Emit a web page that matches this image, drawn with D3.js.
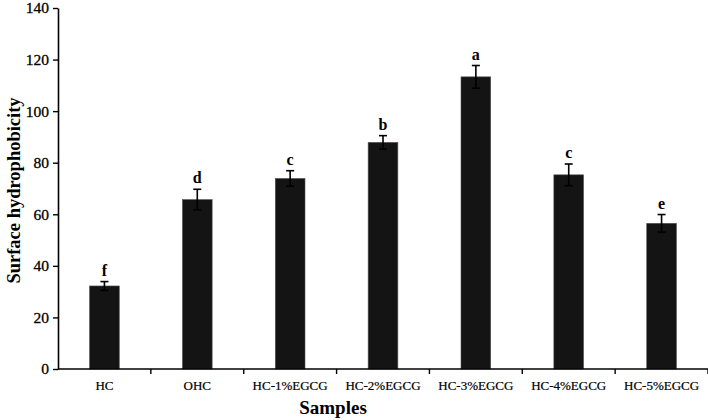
<!DOCTYPE html>
<html>
<head>
<meta charset="utf-8">
<script src="https://cdn.jsdelivr.net/npm/d3@7"></script>
<style>
  body { margin: 0; background: #fff; }
  svg { display: block; }
  text { font-family: "Liberation Serif", "Times New Roman", serif; fill: #000; }
</style>
</head>
<body>
<div id="chart"></div>
<script>
const samples = ['HC', 'OHC', 'HC-1%EGCG', 'HC-2%EGCG', 'HC-3%EGCG', 'HC-4%EGCG', 'HC-5%EGCG'];
const hydrophobicity = [32.2, 65.7, 73.9, 87.9, 113.3, 75.3, 56.5];
const errors = [1.7, 4.0, 3.0, 2.6, 4.4, 4.2, 3.4];
const letters = ['f', 'd', 'c', 'b', 'a', 'c', 'e'];
const yTicks = [0, 20, 40, 60, 80, 100, 120, 140];

const width = 708;
const height = 420;
const margin = { top: 8, right: 0, bottom: 51, left: 58 };

const svg = d3.select('#chart')
  .append('svg')
  .attr('width', width)
  .attr('height', height);

const x = d3.scaleBand()
  .domain(samples)
  .range([margin.left, width - margin.right])
  .paddingInner(0.68)
  .paddingOuter(0.34);

const y = d3.scaleLinear()
  .domain([0, 140])
  .range([height - margin.bottom, margin.top]);

const data = samples.map((s, i) => ({
  sample: s,
  value: hydrophobicity[i],
  err: errors[i],
  letter: letters[i]
}));

// Bars
svg.append('g')
  .selectAll('rect')
  .data(data)
  .join('rect')
  .attr('x', d => x(d.sample))
  .attr('y', d => y(d.value))
  .attr('width', x.bandwidth())
  .attr('height', d => y(0) - y(d.value))
  .attr('fill', '#141414')
  .attr('stroke', '#555')
  .attr('stroke-width', 0.6);

// Error bars
const eb = svg.append('g')
  .attr('stroke', '#000')
  .attr('stroke-width', 1.6);
data.forEach(d => {
  const cx = x(d.sample) + x.bandwidth() / 2;
  eb.append('line')
    .attr('x1', cx).attr('x2', cx)
    .attr('y1', y(d.value + d.err)).attr('y2', y(d.value - d.err));
  eb.append('line')
    .attr('x1', cx - 4).attr('x2', cx + 4)
    .attr('y1', y(d.value + d.err)).attr('y2', y(d.value + d.err));
  eb.append('line')
    .attr('x1', cx - 4).attr('x2', cx + 4)
    .attr('y1', y(d.value - d.err)).attr('y2', y(d.value - d.err));
});

// Significance letters
svg.append('g')
  .selectAll('text')
  .data(data)
  .join('text')
  .attr('x', d => x(d.sample) + x.bandwidth() / 2)
  .attr('y', d => y(d.value + d.err) - 6)
  .attr('text-anchor', 'middle')
  .attr('font-size', 16)
  .attr('font-weight', 700)
  .text(d => d.letter);

// Y axis
const yAxis = svg.append('g')
  .attr('transform', `translate(${margin.left},0)`)
  .call(d3.axisLeft(y).tickValues(yTicks).tickSize(5).tickPadding(4).tickSizeOuter(0));
yAxis.select('.domain').attr('stroke', '#000').attr('stroke-width', 1.6);
yAxis.selectAll('.tick line').attr('stroke', '#000').attr('stroke-width', 1.4);
yAxis.selectAll('.tick text')
  .attr('font-size', 15.5)
  .attr('font-family', '"Liberation Serif", serif')
  .attr('fill', '#000')
  .attr('stroke', '#000')
  .attr('stroke-width', 0.3);

// X axis: ticks sit between the categories
const xAxis = svg.append('g')
  .attr('transform', `translate(0,${y(0)})`);
xAxis.append('line')
  .attr('x1', margin.left).attr('x2', width - margin.right)
  .attr('stroke', '#000').attr('stroke-width', 1.6);
const step = x.step();
xAxis.selectAll('line.sep')
  .data(samples)
  .join('line')
  .attr('class', 'sep')
  .attr('x1', d => x(d) - x.paddingOuter() * step + step)
  .attr('x2', d => x(d) - x.paddingOuter() * step + step)
  .attr('y1', 0).attr('y2', 5)
  .attr('stroke', '#000').attr('stroke-width', 1.4);
xAxis.selectAll('text')
  .data(samples)
  .join('text')
  .attr('x', d => x(d) + x.bandwidth() / 2)
  .attr('y', 21)
  .attr('text-anchor', 'middle')
  .attr('font-size', 13)
  .attr('stroke', '#000')
  .attr('stroke-width', 0.2)
  .text(d => d);

// Axis titles
svg.append('text')
  .attr('x', 333)
  .attr('y', 414)
  .attr('text-anchor', 'middle')
  .attr('font-size', 19)
  .attr('font-weight', 700)
  .text('Samples');

svg.append('text')
  .attr('transform', `translate(20,${(margin.top + y(0)) / 2 + 2}) rotate(-90)`)
  .attr('text-anchor', 'middle')
  .attr('font-size', 18.5)
  .attr('font-weight', 700)
  .text('Surface hydrophobicity');
</script>
</body>
</html>
